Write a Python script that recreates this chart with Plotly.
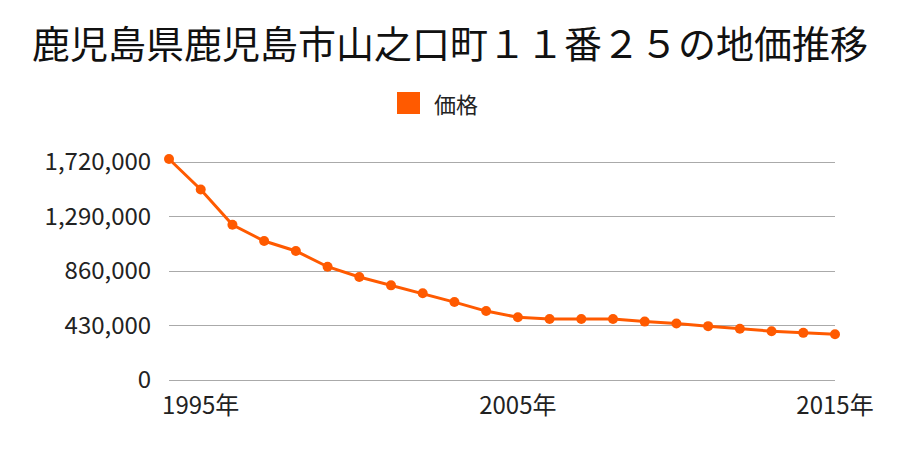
import plotly.graph_objects as go

years = list(range(1994, 2016))
prices = [1744000, 1504000, 1225000, 1097000, 1018000, 894000,
          813000, 747000, 684000, 615000, 544000, 495000, 481000, 481000,
          481000, 461000, 446000, 425000, 404000, 385000, 372000, 361000]
y_ticks = [0, 430000, 860000, 1290000, 1720000]
x_ticks = [1995, 2005, 2015]
x_labels = ["1995年", "2005年", "2015年"]
series_name = "価格"

color = "#ff5a00"
font = "Noto Sans CJK JP"

# plot area geometry (pixels)
L, R, T, B = 169, 835, 157, 380
W, H = R - L, B - T
def px(x):
    return (x - L) / W
def py(y):
    return (B - y) / H

fig = go.Figure()
fig.add_trace(go.Scatter(
    x=years, y=prices, mode="lines+markers",
    line=dict(color=color, width=3),
    marker=dict(color=color, size=10),
    showlegend=False, cliponaxis=False, name=series_name,
))

fig.update_layout(
    width=900, height=450,
    margin=dict(l=L, r=900 - R, t=T, b=450 - B),
    paper_bgcolor="white", plot_bgcolor="white",
    font=dict(family=font, color="#222", size=22),
    title=dict(text="鹿児島県鹿児島市山之口町１１番２５の地価推移",
               x=0.5, xanchor="center", y=0.9, yanchor="middle",
               font=dict(size=38, family=font, color="#111")),
    showlegend=False,
    xaxis=dict(range=[1994, 2015], tickvals=x_ticks, ticktext=x_labels,
               showgrid=False, zeroline=False, showline=False,
               ticks="outside", ticklen=4, tickcolor="rgba(0,0,0,0)",
               tickfont=dict(size=24)),
    yaxis=dict(range=[0, 1760000], tickvals=y_ticks,
               tickformat=",d", showgrid=True, gridcolor="#aaaaaa", gridwidth=1,
               zeroline=True, zerolinecolor="#aaaaaa", zerolinewidth=1,
               showline=False,
               ticks="outside", ticklen=12, tickcolor="rgba(0,0,0,0)",
               tickfont=dict(size=24)),
    shapes=[dict(type="rect", xref="paper", yref="paper",
                 x0=px(397), x1=px(420), y0=py(114), y1=py(92),
                 fillcolor=color, line=dict(width=0))],
    annotations=[dict(text=series_name, xref="paper", yref="paper",
                      x=px(432), y=py(103), xanchor="left", yanchor="middle",
                      showarrow=False, font=dict(size=22, family=font, color="#222"))],
)

fig.write_html("out.html")
